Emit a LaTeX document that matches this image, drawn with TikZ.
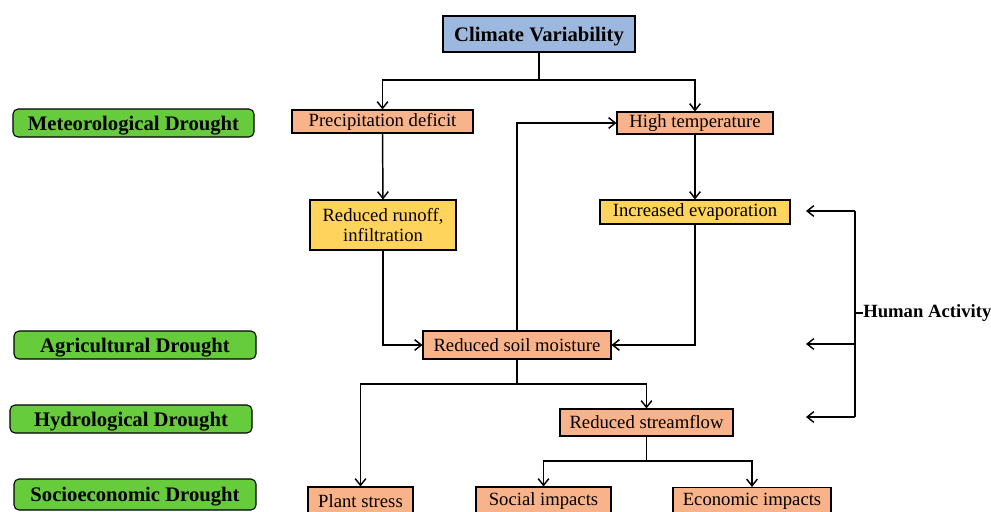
\documentclass[tikz,border=0pt]{standalone}
\usepackage{fontspec}
\setmainfont{Liberation Serif}
\usetikzlibrary{arrows.meta}
\definecolor{cvblue}{HTML}{9DB8DE}
\definecolor{dgreen}{HTML}{66CC3C}
\definecolor{salmon}{HTML}{F9B38A}
\definecolor{ylw}{HTML}{FFD45C}
\tikzset{
  box/.style={draw=black, line width=0.8pt, inner sep=0pt, align=center, font=\fontsize{14}{16}\selectfont},
  sbox/.style={box, fill=salmon},
  ybox/.style={box, fill=ylw},
  lvl/.style={draw=black, line width=0.8pt, fill=dgreen, rounded corners=3.75pt, inner sep=0pt, text depth=0pt, font=\bfseries\fontsize{15.5}{18}\selectfont, minimum height=21pt},
  conn/.style={line width=1.1pt},
  arr/.style={conn, -{Straight Barb[length=5pt,width=8pt,line width=1.1pt]}},
}
\begin{document}
\begin{tikzpicture}[x=0.75pt,y=-0.75pt]
\useasboundingbox (0,0) rectangle (991,511);
% level labels
\node[lvl, minimum width=180.75pt] (met) at (133.5,123) {Meteorological Drought};
\node[lvl, minimum width=181.5pt] (agr) at (135,345) {Agricultural Drought};
\node[lvl, minimum width=181.5pt] (hyd) at (131,419) {Hydrological Drought};
\node[lvl, minimum width=181.5pt, minimum height=23.25pt] (soc) at (135,494.5) {Socioeconomic Drought};
% flow boxes
\node[box, fill=cvblue, minimum width=144pt, minimum height=27pt, text depth=0pt, font=\bfseries\fontsize{15.5}{18}\selectfont] (cv) at (539,34) {Climate Variability};
\node[sbox, minimum width=135.75pt, minimum height=17.25pt] (pd) at (382.5,121.5) {Precipitation deficit};
\node[sbox, minimum width=117pt, minimum height=16.5pt] (ht) at (695,123) {High temperature};
\node[ybox, minimum width=109.5pt, minimum height=37.5pt] (rr) at (383,225) {Reduced runoff,\\[-1pt]infiltration};
\node[ybox, minimum width=142.5pt, minimum height=18pt] (ie) at (695,212) {Increased evaporation};
\node[sbox, minimum width=141pt, minimum height=21pt] (sm) at (517,345) {Reduced soil moisture};
\node[sbox, minimum width=129.75pt, minimum height=20.25pt] (sf) at (646.5,422.5) {Reduced streamflow};
\node[sbox, minimum width=78.75pt, minimum height=21pt] (ps) at (360.5,501) {Plant stress};
\node[sbox, minimum width=101.25pt, minimum height=21pt] (si) at (543.5,501) {Social impacts};
\node[sbox, minimum width=118.5pt, minimum height=21pt] (ei) at (752,501.5) {Economic impacts};
\node[anchor=west, inner sep=0pt, font=\bfseries\fontsize{14}{16}\selectfont] (ha) at (863,313) {Human Activity};
% coordinates
\coordinate (hb) at (855,211);
\coordinate (hm) at (855,344);
\coordinate (hl) at (855,417);
\coordinate (ht1) at (806,211);
\coordinate (ht2) at (806,344);
\coordinate (ht3) at (806,417);
% connectors
\draw[conn] (cv.south) -- (539,80);
\draw[arr] (539,80) -| (pd.north);
\draw[arr] (539,80) -| (ht.north);
\draw[arr] (pd.south) -- (rr.north);
\draw[arr] (ht.south) -- (ie.north);
\draw[arr] (rr.south) |- (sm.west);
\draw[arr] (ie.south) |- (sm.east);
\draw[arr] (sm.north) |- (ht.west);
\draw[conn] (sm.south) -- (517,384);
\draw[arr] (517,384) -| (ps.north);
\draw[arr] (517,384) -| (sf.north);
\draw[conn] (sf.south) -- (646.5,461);
\draw[arr] (646.5,461) -| (si.north);
\draw[arr] (646.5,461) -| (ei.north);
% human activity
\draw[conn] (hb) -- (hl);
\draw[conn] (hm |- ha.west) -- (ha.west);
\draw[arr] (hb) -- (ht1);
\draw[arr] (hm) -- (ht2);
\draw[arr] (hl) -- (ht3);
\end{tikzpicture}
\end{document}
